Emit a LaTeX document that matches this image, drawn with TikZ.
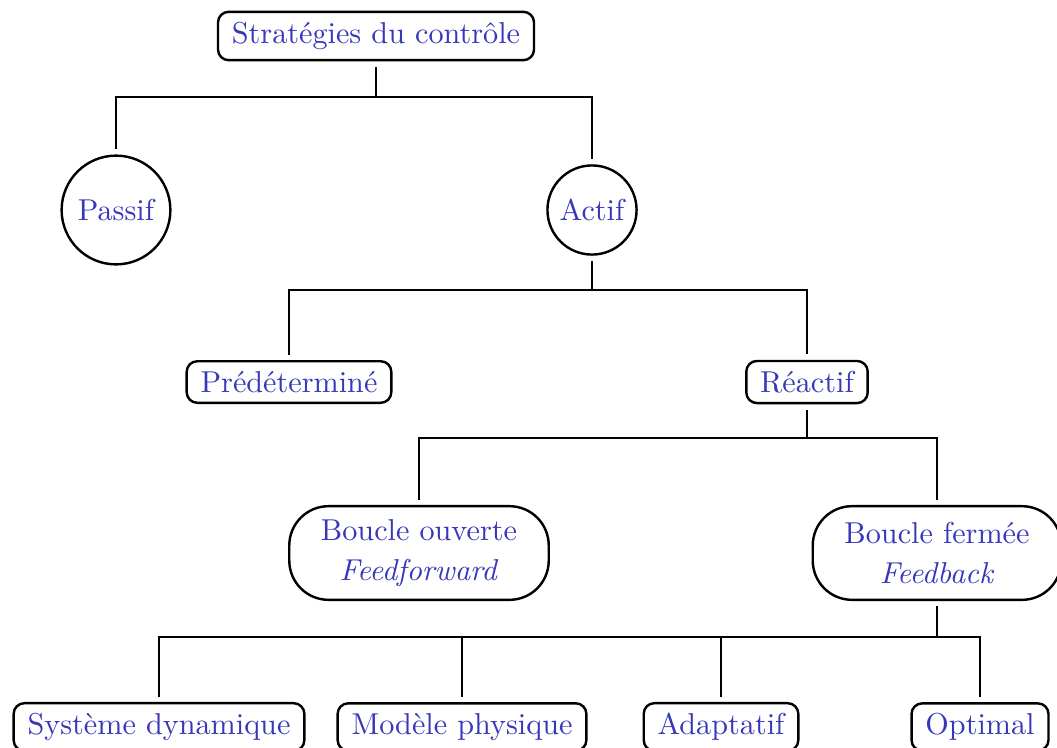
\documentclass[tikz,border=0pt]{standalone}
\usetikzlibrary{positioning}
\definecolor{txtblue}{RGB}{55,55,185}
\begin{document}
\begin{tikzpicture}[x=0.331pt,y=-0.331pt,
  every node/.style={text=txtblue, font=\normalsize, outer sep=2.2pt},
  conn/.style={draw=black, thick},
  sbox/.style={draw=black, thick, rounded corners=3.5pt, inner xsep=4.6pt, minimum height=13pt},
  bigbox/.style={draw=black, thick, rounded corners=13pt, inner xsep=10.5pt, minimum height=31pt, align=center},
  circ/.style={draw=black, thick, circle, inner sep=1pt}]
\useasboundingbox (0,0) rectangle (1057,747);
\clip (0,0) rectangle (1057,747);

\node[sbox, minimum height=16pt] (strat) at (376,36) {Stratégies du contrôle};
\node[circ, minimum size=36pt] (passif) at (116,210) {Passif};
\node[circ, minimum size=29.5pt] (actif) at (592,210) {Actif};
\node[sbox] (pred) at (289,382) {Prédéterminé};
\node[sbox] (reac) at (807,382) {Réactif};
\node[bigbox] (bo) at (419,553) {Boucle ouverte\\[1pt]\textit{Feedforward}};
\node[bigbox] (bf) at (937,553) {Boucle fermée\\[1pt]\textit{Feedback}};
\node[sbox] (sd) at (159,727) {Système dynamique};
\node[sbox] (mp) at (462,727) {Modèle physique};
\node[sbox] (ad) at (721,727) {Adaptatif};
\node[sbox] (op) at (980,727) {Optimal};

\coordinate (j1) at (376,97);
\coordinate (j2) at (592,290);
\coordinate (j3) at (807,438);
\coordinate (j4) at (937,637);

\draw[conn] (strat.south) -- (j1);
\draw[conn] (passif.north) |- (j1) -| (actif.north);
\draw[conn] (actif.south) -- (j2);
\draw[conn] (pred.north) |- (j2) -| (reac.north);
\draw[conn] (reac.south) -- (j3);
\draw[conn] (bo.north) |- (j3) -| (bf.north);
\draw[conn] (bf.south) -- (j4);
\draw[conn] (sd.north) |- (j4) -| (op.north);
\draw[conn] (mp.north) -- (mp.north |- j4);
\draw[conn] (ad.north) -- (ad.north |- j4);
\end{tikzpicture}
\end{document}
